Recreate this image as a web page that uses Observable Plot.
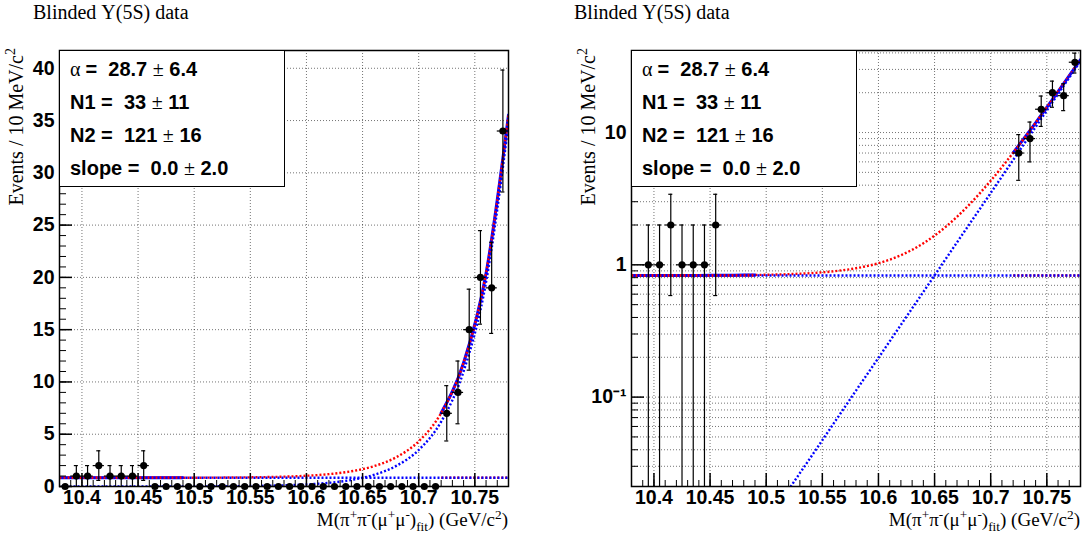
<!DOCTYPE html>
<html><head><meta charset="utf-8">
<script src="https://cdn.jsdelivr.net/npm/d3@7"></script>
<script src="https://cdn.jsdelivr.net/npm/@observablehq/plot@0.6"></script>
<style>
body{margin:0;background:#fff;}
#wrap{position:relative;width:1082px;height:544px;overflow:hidden;background:#fff;}
#wrap svg{position:absolute;top:0;}
#wrap svg text{font-family:"Liberation Sans",Arial,sans-serif;font-size:19.5px;font-weight:bold;fill:#000;}
.serif{position:absolute;font-family:"Liberation Serif","Times New Roman",serif;font-size:20px;color:#000;white-space:nowrap;line-height:22px;}
.ytitle{transform-origin:0 0;transform:rotate(-90deg);width:200px;text-align:right;}
.xtitle{width:300px;text-align:right;font-size:19px;line-height:14px;}
.stat{position:absolute;box-sizing:border-box;border:1.5px solid #000;background:#fff;font-family:"Liberation Sans",Arial,sans-serif;font-weight:bold;font-size:20px;color:#000;padding:2px 0 0 10px;}
.stat div{line-height:33px;white-space:pre;}
.stat .sym{font-family:"Liberation Serif",serif;font-weight:normal;}
sup,sub{font-size:70%;line-height:0;}
</style></head>
<body><div id="wrap"></div>
<script>
// ---- data ----
const binCenters = [10.385,10.395,10.405,10.415,10.425,10.435,10.445,10.455,10.465,10.475,
  10.485,10.495,10.505,10.515,10.525,10.535,10.545,10.555,10.565,10.575,
  10.585,10.595,10.605,10.615,10.625,10.635,10.645,10.655,10.665,10.675,
  10.685,10.695,10.705,10.715,10.725,10.735,10.745,10.755,10.765,10.775];
const counts = [0,1,1,2,1,1,1,2,0,0, 0,0,0,0,0,0,0,0,0,0, 0,0,0,0,0,0,0,0,0,0, 0,0,0,0,7,9,15,20,19,34];
// fit components (events per bin)
const curveX   = [10.38,10.40,10.42,10.44,10.46,10.48,10.49,10.50,10.52,10.54,10.56,10.58,10.60,10.62,10.64,10.66,10.68,10.70,10.72,10.74,10.76,10.78];
const expComp  = [0.0004,0.0006,0.0011,0.0020,0.0036,0.0063,0.0084,0.0112,0.0200,0.0354,0.063,0.112,0.198,0.352,0.624,1.11,1.97,3.49,6.20,11.01,19.55,34.7];
const flatLevel = 0.83;
const fitRanges = [[10.38,10.49],[10.72,10.78]];
const xMajorTicks = [10.4,10.45,10.5,10.55,10.6,10.65,10.7,10.75];
const yLinMajor = [0,5,10,15,20,25,30,35,40];
const yLogMajor = [0.1,1,10];
const yLogMinor = [0.03,0.04,0.05,0.06,0.07,0.08,0.09,0.2,0.3,0.4,0.5,0.6,0.7,0.8,0.9,2,3,4,5,6,7,8,9,20,30,40];
const statLines = [["α","=  28.7 ","±"," 6.4"],["","N1 =  33 ","±"," 11"],["","N2 =  121 ","±"," 16"],["","slope =  0.0 ","±"," 2.0"]];
const titleText = "Blinded Υ(5S) data";

const W = 541, H = 544;
const xDomain = [10.38, 10.78];

function panel(log){
  const ml = log ? 90 : 59, mr = log ? 2 : 33, mt = 50, mb = 58;
  const fw = W - ml - mr, fh = H - mt - mb;
  const yMin = log ? 0.0211 : 0, yMax = 41.7;
  const pts = binCenters.map((x,i)=>({x, n:counts[i], e:Math.sqrt(counts[i])}))
    .filter(d => !log || d.n > 0)
    .map(d => ({...d, lo: Math.max(d.n - d.e, yMin), hi: d.n + d.e}));
  const curve = curveX.map((x,i)=>({x, ex: expComp[i], fl: flatLevel, tot: expComp[i] + flatLevel}));
  const inFit = d => fitRanges.some(([a,b]) => d.x >= a - 1e-9 && d.x <= b + 1e-9);
  const fitPts = curve.filter(inFit);
  const seg = d => d.x < 10.6 ? "a" : "b";
  const xMinor = d3.range(0, 41).map(i => 10.38 + i*0.01);
  const yLinMinor = d3.range(0, 42);
  const yMajor = log ? yLogMajor : yLinMajor;
  const yMinor = log ? yLogMinor : yLinMinor;
  const yGrid = log ? [...yLogMajor, ...yLogMinor] : yLinMajor;
  const dot = {strokeWidth: 2.4, strokeDasharray: "2,2", strokeLinecap: "butt", curve: "monotone-x", clip: true};
  const grid = {stroke: "#000", strokeOpacity: 0.55, strokeDasharray: "1,2", strokeWidth: 1};
  const cap = 0.0018;
  return Plot.plot({
    width: W, height: H, marginLeft: ml, marginRight: mr, marginTop: mt, marginBottom: mb,
    x: {domain: xDomain},
    y: {type: log ? "log" : "linear", domain: [yMin, yMax]},
    style: {fontFamily: "Liberation Sans, Arial, sans-serif", fontSize: "19.5px", fontWeight: "bold", background: "white", overflow: "visible"},
    marks: [
      Plot.ruleX(xMajorTicks, grid),
      Plot.ruleY(yGrid, grid),
      // solid total in fit ranges
      Plot.line(fitPts, {x: "x", y: "tot", z: seg, stroke: "#0000ff", strokeWidth: 3, curve: "monotone-x", clip: true}),
      // red dotted total (full range)
      Plot.line(curve, {x: "x", y: "tot", stroke: "#ff0000", ...dot}),
      // red dotted flat in fit ranges
      Plot.line(fitPts, {x: "x", y: "fl", z: seg, stroke: "#ff0000", ...dot}),
      // blue dotted components
      Plot.line(curve, {x: "x", y: "ex", stroke: "#0000ff", ...dot, strokeDashoffset: 2}),
      Plot.line(curve, {x: "x", y: "fl", stroke: "#0000ff", ...dot, strokeDashoffset: 2}),
      // data
      Plot.ruleY(pts, {y: "n", x1: d => d.x - 0.005, x2: d => d.x + 0.005, stroke: "#000", strokeWidth: 1.2}),
      Plot.ruleX(pts.filter(d => d.n > 0), {x: "x", y1: "lo", y2: "hi", stroke: "#000", strokeWidth: 1.2}),
      Plot.ruleY(pts.filter(d => d.n > 0), {y: "hi", x1: d => d.x - cap, x2: d => d.x + cap, stroke: "#000", strokeWidth: 1.2}),
      Plot.ruleY(pts.filter(d => d.n > 0 && d.lo > yMin), {y: "lo", x1: d => d.x - cap, x2: d => d.x + cap, stroke: "#000", strokeWidth: 1.2}),
      Plot.dot(pts, {x: "x", y: "n", r: 3.6, fill: "#000", stroke: "none"}),
      // ticks inside frame
      Plot.ruleX(xMinor, {stroke: "#000", strokeWidth: 1, insetTop: fh - 6}),
      Plot.ruleX(xMajorTicks, {stroke: "#000", strokeWidth: 1.5, insetTop: fh - 13}),
      Plot.ruleY(yMinor.filter(v => v >= yMin && v <= yMax), {stroke: "#000", strokeWidth: 1, insetRight: fw - 7}),
      Plot.ruleY(yMajor, {stroke: "#000", strokeWidth: 1.5, insetRight: fw - 13}),
      Plot.frame({stroke: "#000", strokeWidth: 1.5}),
      Plot.axisX(xMajorTicks, {tickSize: 0, tickPadding: 4, tickFormat: d => String(d), label: null}),
      Plot.axisY(yMajor, {tickSize: 0, tickPadding: 5,
        tickFormat: d => log ? (d === 0.1 ? "10⁻¹" : String(d)) : String(d), label: null})
    ]
  });
}

const wrap = document.getElementById("wrap");
[false, true].forEach((log, k) => {
  const off = k * W;
  const svg = panel(log);
  svg.style.left = off + "px";
  wrap.appendChild(svg);
  const ml = log ? 90 : 59, mr = log ? 2 : 33;
  // title
  const t = document.createElement("div");
  t.className = "serif"; t.textContent = titleText;
  t.style.left = (off + 33) + "px"; t.style.top = "1px";
  wrap.appendChild(t);
  // y title
  const yt = document.createElement("div");
  yt.className = "serif ytitle";
  yt.innerHTML = "Events / 10 MeV/c<sup>2</sup>";
  yt.style.left = (off + ml - 54) + "px"; yt.style.top = (48 + 200) + "px";
  wrap.appendChild(yt);
  // x title
  const xt = document.createElement("div");
  xt.className = "serif xtitle";
  xt.innerHTML = "M(π<sup>+</sup>π<sup>-</sup>(μ<sup>+</sup>μ<sup>-</sup>)<sub>fit</sub>) (GeV/c<sup>2</sup>)";
  xt.style.left = (off + W - mr - 300) + "px"; xt.style.top = "513px";
  wrap.appendChild(xt);
  // stat box
  const sb = document.createElement("div");
  sb.className = "stat";
  sb.style.left = (off + ml) + "px"; sb.style.top = "50px";
  sb.style.width = "226px"; sb.style.height = "137px";
  statLines.forEach(([s, a, pm, b]) => {
    const row = document.createElement("div");
    if (s) { const sp = document.createElement("span"); sp.className = "sym"; sp.textContent = s + " "; row.appendChild(sp); }
    row.appendChild(document.createTextNode(a));
    const p = document.createElement("span"); p.className = "sym"; p.textContent = pm; row.appendChild(p);
    row.appendChild(document.createTextNode(b));
    sb.appendChild(row);
  });
  wrap.appendChild(sb);
});
</script></body></html>
